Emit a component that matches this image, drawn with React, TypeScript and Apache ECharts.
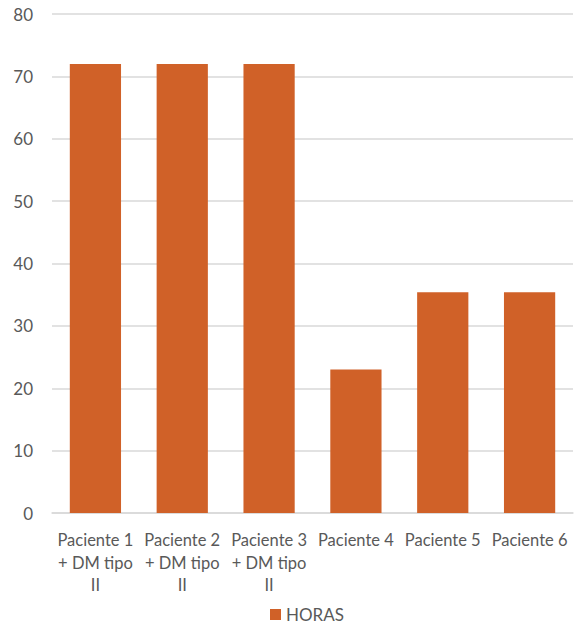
import React, { useEffect, useRef } from "react";
import * as echarts from "echarts";

const categories = [
  "Paciente 1\n+ DM tipo\nII",
  "Paciente 2\n+ DM tipo\nII",
  "Paciente 3\n+ DM tipo\nII",
  "Paciente 4",
  "Paciente 5",
  "Paciente 6",
];
const horas = [72, 72, 72, 23, 35.4, 35.4];
const seriesName = "HORAS";

export default function App() {
  const ref = useRef<HTMLDivElement>(null);
  useEffect(() => {
    if (!ref.current) return;
    const chart = echarts.init(ref.current, null, { renderer: "svg" });
    const font = "Lato, 'Noto Sans', sans-serif";
    chart.setOption({
      animation: false,
      textStyle: { fontFamily: font },
      grid: { left: 52, right: 4, top: 14, bottom: 111, containLabel: false },
      legend: {
        top: 606,
        left: 270,
        itemWidth: 11,
        itemHeight: 11,
        icon: "rect",
        itemGap: 6,
        padding: 0,
        textStyle: { color: "#595959", fontSize: 17, fontFamily: font },
        data: [seriesName],
      },
      xAxis: {
        type: "category",
        data: categories,
        axisLine: { show: true, lineStyle: { color: "#d9d9d9", width: 1.5 } },
        axisTick: { show: false },
        axisLabel: {
          interval: 0,
          color: "#595959",
          fontSize: 16.5,
          lineHeight: 22.5,
          margin: 16,
          fontFamily: font,
        },
      },
      yAxis: {
        type: "value",
        min: 0,
        max: 80,
        interval: 10,
        axisLine: { show: false },
        axisTick: { show: false },
        splitLine: { lineStyle: { color: "#d9d9d9", width: 1.5 } },
        axisLabel: { color: "#595959", fontSize: 17, margin: 19, fontFamily: font },
      },
      series: [
        {
          name: seriesName,
          type: "bar",
          data: horas,
          barCategoryGap: "41%",
          itemStyle: { color: "#D06128" },
        },
      ],
    });
    return () => chart.dispose();
  }, []);
  return (
    <div
      ref={ref}
      style={{ position: "absolute", left: 0, top: 0, width: 577, height: 624 }}
    />
  );
}
